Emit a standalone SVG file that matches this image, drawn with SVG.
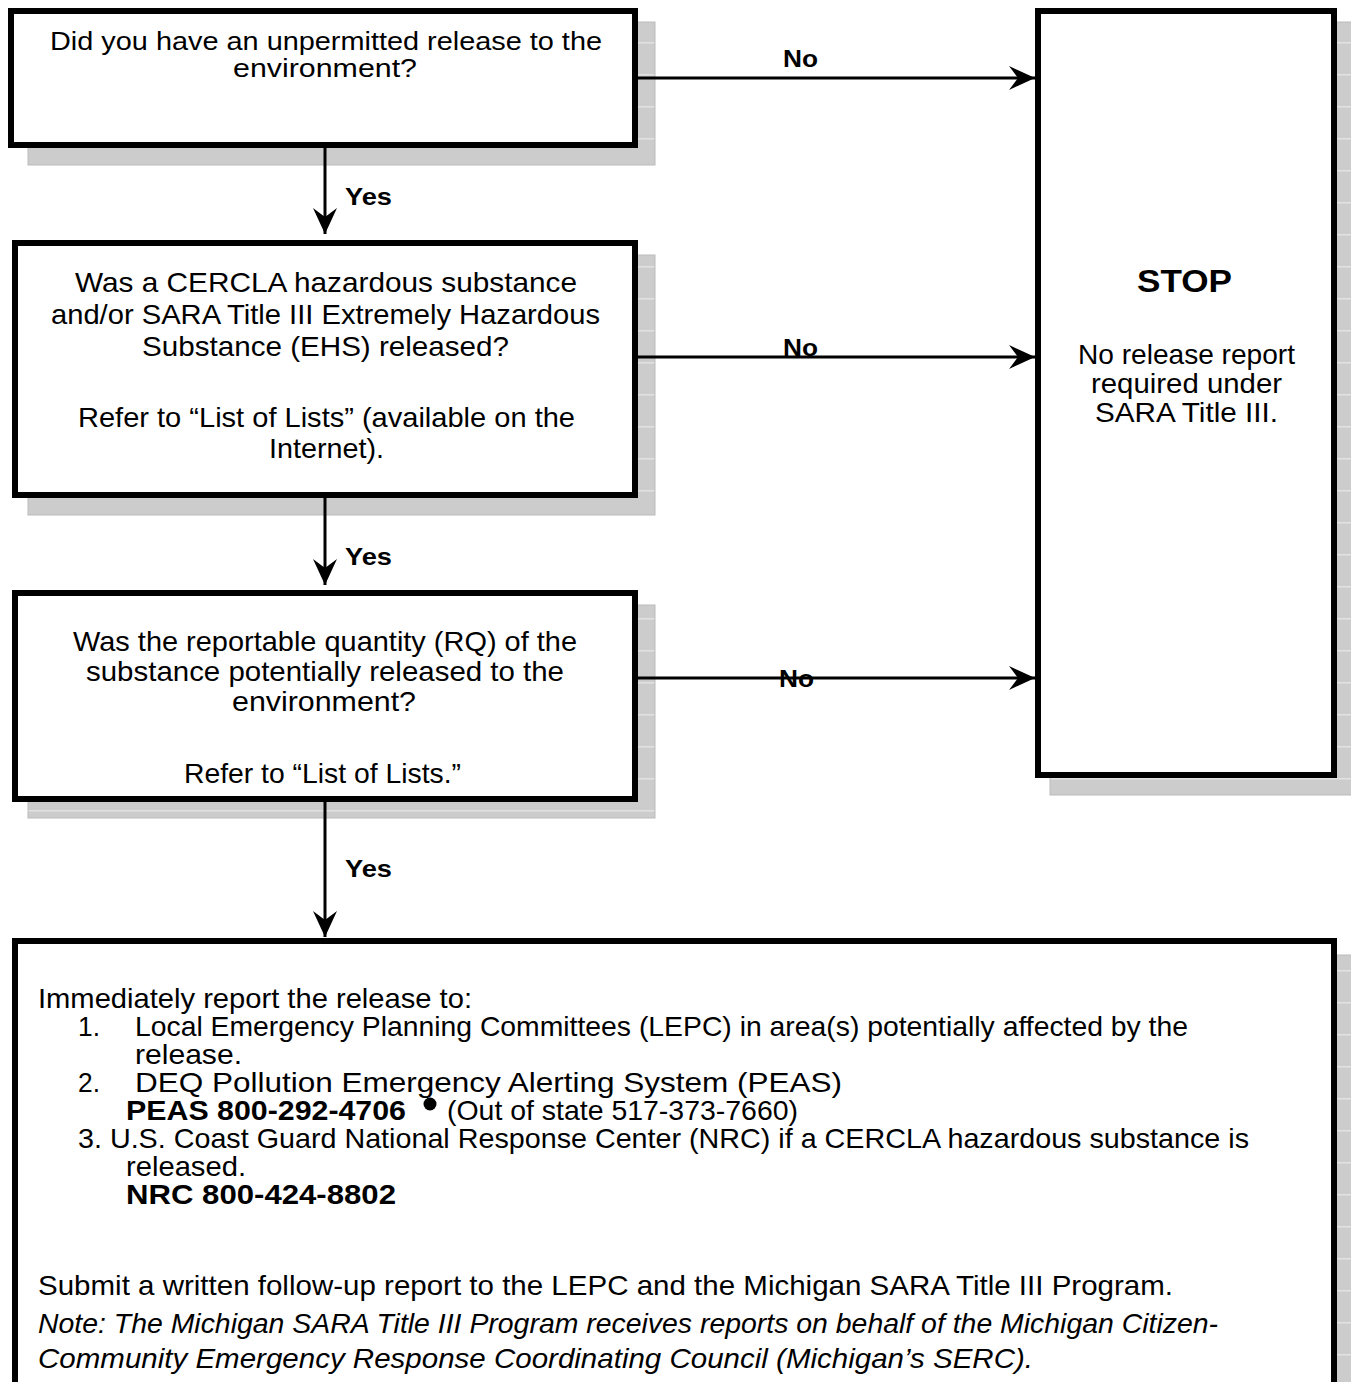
<svg xmlns="http://www.w3.org/2000/svg" width="1351" height="1382" viewBox="0 0 1351 1382">
<defs>
<pattern id="sh" patternUnits="userSpaceOnUse" x="0" y="0" width="20" height="32">
<rect width="20" height="32" fill="#cccccc"/>
<rect y="10" width="20" height="1.5" fill="#e2e2e2"/>
</pattern>
<marker id="ah" viewBox="-28 -14 30 28" refX="0" refY="0" markerWidth="30" markerHeight="28" markerUnits="userSpaceOnUse" orient="auto">
<path d="M0,0 L-26,-12 L-17,0 L-26,12 Z" fill="#000"/>
</marker>
</defs>
<style>
.box{fill:#fff;stroke:#000;stroke-width:6}
.shadow{fill:url(#sh);stroke:#bbb;stroke-width:1}
.t{font-family:"Liberation Sans",Arial,sans-serif;font-size:28px;fill:#000}
.s{font-size:26px}
.c{text-anchor:middle}
.b{font-weight:bold}
.lbl{font-family:"Liberation Sans",Arial,sans-serif;font-size:24px;font-weight:bold;fill:#000}
.conn{stroke:#000;stroke-width:3;fill:none;marker-end:url(#ah)}
</style>
<rect width="1351" height="1382" fill="#fff"/>

<g id="shadows">
<rect class="shadow" x="28" y="22" width="627" height="143"/>
<rect class="shadow" x="28" y="255" width="627" height="260"/>
<rect class="shadow" x="28" y="605" width="627" height="213"/>
<rect class="shadow" x="1050" y="22" width="305" height="773"/>
<rect class="shadow" x="1320" y="955" width="35" height="440"/>
</g>

<g id="node-q1">
<rect class="box" x="11" y="11" width="624" height="134"/>
<rect x="8" y="8" width="6" height="140" fill="#000"/>
<text class="t s c" x="326" y="50" textLength="552" lengthAdjust="spacingAndGlyphs">Did you have an unpermitted release to the</text>
<text class="t s c" x="325" y="77" textLength="184" lengthAdjust="spacingAndGlyphs">environment?</text>
</g>

<g id="node-q2">
<rect class="box" x="15" y="243" width="620" height="252"/>
<text class="t c" x="326" y="292" textLength="502" lengthAdjust="spacingAndGlyphs">Was a CERCLA hazardous substance</text>
<text class="t c" x="325.5" y="324" textLength="549" lengthAdjust="spacingAndGlyphs">and/or SARA Title III Extremely Hazardous</text>
<text class="t c" x="325.5" y="356" textLength="367" lengthAdjust="spacingAndGlyphs">Substance (EHS) released?</text>
<text class="t c" x="326.5" y="427" textLength="497" lengthAdjust="spacingAndGlyphs">Refer to “List of Lists” (available on the</text>
<text class="t c" x="326.5" y="458" textLength="115" lengthAdjust="spacingAndGlyphs">Internet).</text>
</g>

<g id="node-q3">
<rect class="box" x="15" y="593" width="620" height="206"/>
<text class="t c" x="325" y="651" textLength="504" lengthAdjust="spacingAndGlyphs">Was the reportable quantity (RQ) of the</text>
<text class="t c" x="325" y="681" textLength="478" lengthAdjust="spacingAndGlyphs">substance potentially released to the</text>
<text class="t c" x="324" y="711" textLength="184" lengthAdjust="spacingAndGlyphs">environment?</text>
<text class="t c" x="322.5" y="783" textLength="277" lengthAdjust="spacingAndGlyphs">Refer to “List of Lists.”</text>
</g>

<g id="node-stop">
<rect class="box" x="1038" y="11" width="296" height="764"/>
<text class="t c b" x="1184.5" y="292" textLength="95" lengthAdjust="spacingAndGlyphs" style="font-size:32px">STOP</text>
<text class="t c" x="1186.5" y="364" textLength="217" lengthAdjust="spacingAndGlyphs">No release report</text>
<text class="t c" x="1186.5" y="393" textLength="191" lengthAdjust="spacingAndGlyphs">required under</text>
<text class="t c" x="1186.5" y="422" textLength="183" lengthAdjust="spacingAndGlyphs">SARA Title III.</text>
</g>

<g id="node-report">
<rect class="box" x="15" y="941" width="1319" height="460"/>
<text class="t" x="38" y="1008" textLength="434" lengthAdjust="spacingAndGlyphs">Immediately report the release to:</text>
<text class="t" x="78" y="1036" textLength="22" lengthAdjust="spacingAndGlyphs">1.</text>
<text class="t" x="135" y="1036" textLength="1053" lengthAdjust="spacingAndGlyphs">Local Emergency Planning Committees (LEPC) in area(s) potentially affected by the</text>
<text class="t" x="135" y="1064" textLength="107" lengthAdjust="spacingAndGlyphs">release.</text>
<text class="t" x="78" y="1092" textLength="22" lengthAdjust="spacingAndGlyphs">2.</text>
<text class="t" x="135" y="1092" textLength="707" lengthAdjust="spacingAndGlyphs">DEQ Pollution Emergency Alerting System (PEAS)</text>
<text class="t b" x="126" y="1120" textLength="280" lengthAdjust="spacingAndGlyphs">PEAS 800-292-4706</text>
<circle cx="430" cy="1104" r="6.5" fill="#000"/>
<text class="t" x="447" y="1120" textLength="351" lengthAdjust="spacingAndGlyphs">(Out of state 517-373-7660)</text>
<text class="t" x="78" y="1148" textLength="1171" lengthAdjust="spacingAndGlyphs">3. U.S. Coast Guard National Response Center (NRC) if a CERCLA hazardous substance is</text>
<text class="t" x="126" y="1176" textLength="120" lengthAdjust="spacingAndGlyphs">released.</text>
<text class="t b" x="126" y="1204" textLength="270" lengthAdjust="spacingAndGlyphs">NRC 800-424-8802</text>
<text class="t" x="38" y="1295" textLength="1135" lengthAdjust="spacingAndGlyphs">Submit a written follow-up report to the LEPC and the Michigan SARA Title III Program.</text>
<text class="t" x="38" y="1333" font-style="italic" textLength="1180" lengthAdjust="spacingAndGlyphs">Note: The Michigan SARA Title III Program receives reports on behalf of the Michigan Citizen-</text>
<text class="t" x="38" y="1368" font-style="italic" textLength="995" lengthAdjust="spacingAndGlyphs">Community Emergency Response Coordinating Council (Michigan’s SERC).</text>
</g>

<g id="connectors">
<line class="conn" x1="638" y1="78" x2="1035" y2="78"/>
<line class="conn" x1="638" y1="357" x2="1035" y2="357"/>
<line class="conn" x1="638" y1="678" x2="1035" y2="678"/>
<line class="conn" x1="325" y1="148" x2="325" y2="234"/>
<line class="conn" x1="325" y1="498" x2="325" y2="585"/>
<line class="conn" x1="325" y1="802" x2="325" y2="937"/>
<text class="lbl" x="783" y="67" textLength="35" lengthAdjust="spacingAndGlyphs">No</text>
<text class="lbl" x="783" y="356" textLength="35" lengthAdjust="spacingAndGlyphs">No</text>
<text class="lbl" x="779" y="687" textLength="35" lengthAdjust="spacingAndGlyphs">No</text>
<text class="lbl" x="345" y="205" textLength="47" lengthAdjust="spacingAndGlyphs">Yes</text>
<text class="lbl" x="345" y="565" textLength="47" lengthAdjust="spacingAndGlyphs">Yes</text>
<text class="lbl" x="345" y="877" textLength="47" lengthAdjust="spacingAndGlyphs">Yes</text>
</g>
</svg>
